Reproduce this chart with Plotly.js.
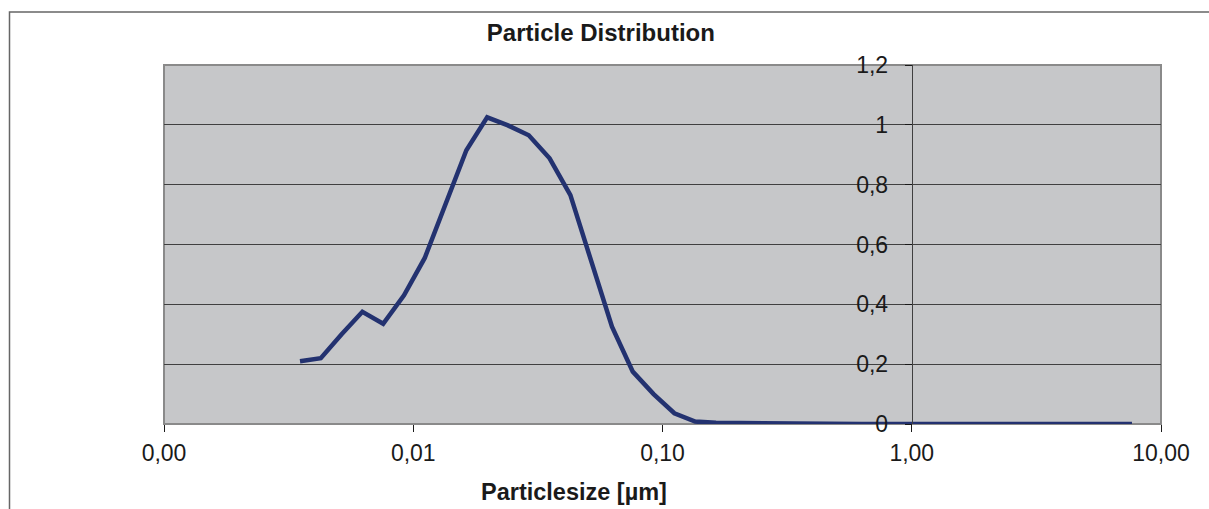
<!DOCTYPE html>
<html>
<head>
<meta charset="utf-8">
<script src="https://cdn.plot.ly/plotly-3.0.1.min.js"></script>
<style>
html,body{margin:0;padding:0;background:#fff;}
#chart{width:1209px;height:509px;}
</style>
</head>
<body>
<div id="chart"></div>
<script>
// Particle size [µm] (log scale)
const particleSize = [0.003513, 0.004256, 0.005160, 0.006251, 0.007574, 0.009180, 0.011122, 0.013480,
  0.016334, 0.019794, 0.023988, 0.029070, 0.035237, 0.042707, 0.051750, 0.062705, 0.075992, 0.092098,
  0.11160, 0.13524, 0.16391, 0.19861, 0.24072, 0.29167, 0.35352, 0.42836, 0.51914, 0.62908, 0.76243,
  0.92383, 1.1197, 1.3566, 1.6444, 1.9925, 2.4149, 2.9260, 3.5465, 4.2973, 5.2084, 6.3110, 7.6473];
// Distribution values
const distribution = [0.21, 0.22, 0.30, 0.375, 0.335, 0.43, 0.555, 0.74, 0.915, 1.025, 0.998, 0.965,
  0.888, 0.765, 0.545, 0.325, 0.175, 0.10, 0.036, 0.008, 0.004, 0.003, 0.002, 0.001, 0, 0, 0, 0, 0,
  0, 0, 0, 0, 0, 0, 0, 0, 0, 0, 0, 0];
// Tick labels
const xTickVals = [0.001, 0.01, 0.1, 1, 10];
const xTickText = ["0,00", "0,01", "0,10", "1,00", "10,00"];
const yTickVals = [0, 0.2, 0.4, 0.6, 0.8, 1, 1.2];
const yTickText = ["0", "0,2", "0,4", "0,6", "0,8", "1", "1,2"];

const font = "Liberation Sans, Arial, Helvetica, sans-serif";

const trace = {
  x: particleSize,
  y: distribution,
  type: "scatter",
  mode: "lines",
  line: {color: "#233270", width: 4.5},
  cliponaxis: false,
  hoverinfo: "x+y"
};

const layout = {
  width: 1209,
  height: 509,
  margin: {l: 164, r: 48, t: 65, b: 85, pad: 0},
  paper_bgcolor: "#ffffff",
  plot_bgcolor: "#c6c7c9",
  showlegend: false,
  separators: ",.",
  font: {family: font, color: "#1a1a1a", size: 23},
  title: {
    text: "<b>Particle Distribution</b>",
    font: {family: font, size: 24, color: "#1a1a1a"},
    xref: "container", yref: "container",
    x: 0.497, xanchor: "center",
    y: 1 - 33/509, yanchor: "middle"
  },
  xaxis: {
    type: "log",
    range: [-3, 1],
    domain: [0, 1],
    tickvals: xTickVals,
    ticktext: xTickText,
    ticks: "outside",
    ticklen: 7,
    tickwidth: 1,
    tickcolor: "#1a1a1a",
    showgrid: false,
    zeroline: false,
    showline: false,
    tickfont: {family: font, size: 23, color: "#1a1a1a"},
    ticklabelstandoff: 1
  },
  yaxis: {
    range: [0, 1.2],
    anchor: "free",
    position: 0.75,
    side: "left",
    tickvals: yTickVals,
    ticktext: yTickText,
    ticks: "outside",
    ticklen: 7,
    tickwidth: 1,
    tickcolor: "#1a1a1a",
    showgrid: true,
    gridcolor: "#404040",
    gridwidth: 1,
    zeroline: false,
    showline: true,
    linecolor: "#404040",
    linewidth: 1,
    tickfont: {family: font, size: 23, color: "#1a1a1a"},
    ticklabelstandoff: 12
  },
  annotations: [{
    text: "<b>Particlesize [µm]</b>",
    xref: "paper", yref: "paper",
    x: (574 - 164) / 997, xanchor: "center",
    y: (424 - 492) / 359, yanchor: "middle",
    showarrow: false,
    font: {family: font, size: 23.5, color: "#1a1a1a"}
  }],
  shapes: [
    {type: "rect", xref: "paper", yref: "paper", x0: 0, x1: 1, y0: 0, y1: 1,
     line: {color: "#8a8a8a", width: 2}, layer: "between"},
    {type: "path", xref: "paper", yref: "paper",
     path: "M " + ((9.5 - 164) / 997) + " " + ((424 - 520) / 359) +
           " L " + ((9.5 - 164) / 997) + " " + ((424 - 12) / 359) +
           " L " + ((1220 - 164) / 997) + " " + ((424 - 12) / 359),
     line: {color: "#666666", width: 1.5}}
  ]
};

Plotly.newPlot("chart", [trace], layout, {staticPlot: true, displayModeBar: false});
</script>
</body>
</html>
